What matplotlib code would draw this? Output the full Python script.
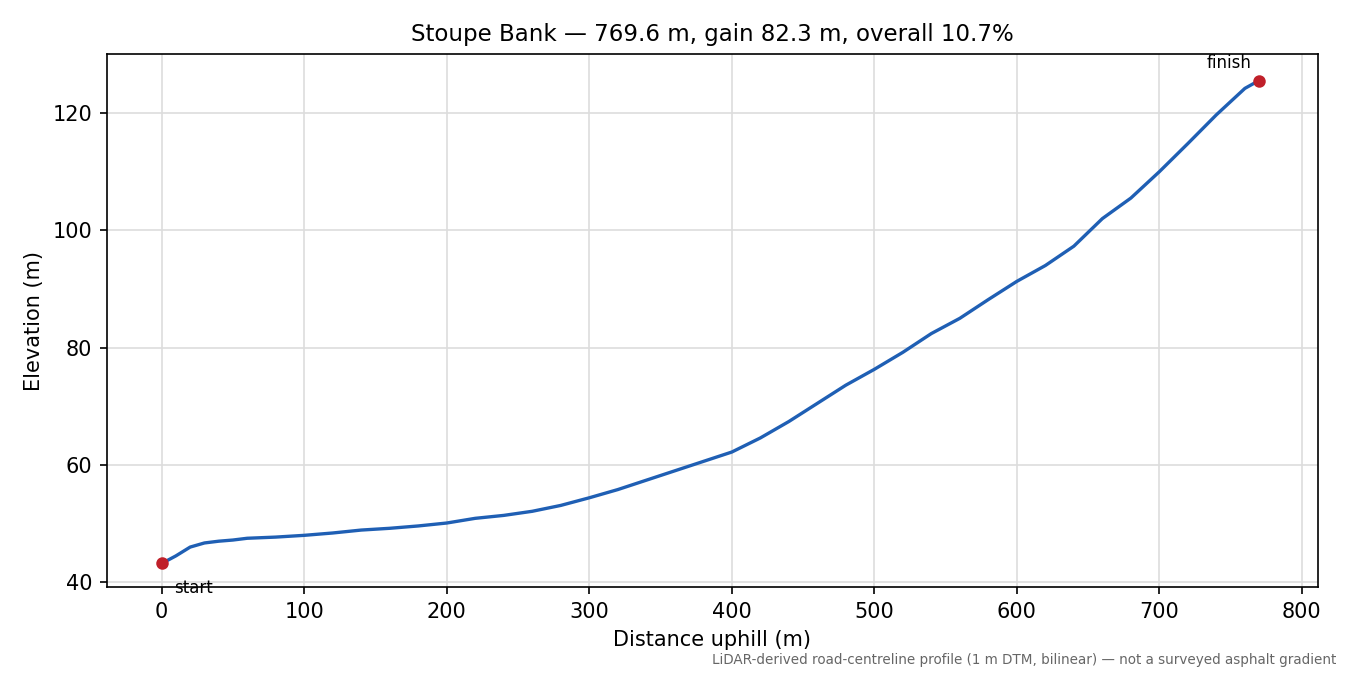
import matplotlib
matplotlib.use("Agg")
import matplotlib.pyplot as plt

dist = [0, 10, 20, 30, 40, 50, 60, 80, 100, 120, 140, 160, 180, 200, 220, 240, 260, 280, 300,
        320, 340, 360, 380, 400, 420, 440, 460, 480, 500, 520, 540, 560, 580, 600, 620, 640,
        660, 680, 700, 720, 740, 760, 769.6]
elev = [43.2, 44.5, 46.0, 46.7, 47.0, 47.2, 47.5, 47.7, 48.0, 48.4, 48.9, 49.2, 49.6, 50.1,
        50.9, 51.4, 52.1, 53.1, 54.4, 55.8, 57.4, 59.0, 60.6, 62.2, 64.6, 67.4, 70.5, 73.6,
        76.3, 79.2, 82.4, 85.0, 88.2, 91.3, 94.0, 97.3, 102.0, 105.5, 110.0, 114.8, 119.7,
        124.2, 125.5]

fig = plt.figure(figsize=(9, 4.5), dpi=150)
ax = fig.add_axes([0.079, 0.13, 0.897, 0.79])
ax.plot(dist, elev, color="#1f5fb4", lw=1.6)
ax.plot([dist[0], dist[-1]], [elev[0], elev[-1]], "o", color="#c0202a", ms=5)
ax.annotate("start", (dist[0], elev[0]), xytext=(6, -14), textcoords="offset points", fontsize=8)
ax.annotate("finish", (dist[-1], elev[-1]), xytext=(-25, 6), textcoords="offset points", fontsize=8)
ax.set_xlim(-38.6, 811)
ax.set_ylim(39.15, 130.06)
ax.grid(True, color="#dddddd", lw=0.8)
ax.set_xlabel("Distance uphill (m)")
ax.set_ylabel("Elevation (m)")
ax.set_title("Stoupe Bank — 769.6 m, gain 82.3 m, overall 10.7%", fontsize=11)
fig.text(0.99, 0.012, "LiDAR-derived road-centreline profile (1 m DTM, bilinear) — not a surveyed asphalt gradient",
         ha="right", va="bottom", fontsize=6.5, color="#666666")
fig.savefig("out.png", dpi=150)
